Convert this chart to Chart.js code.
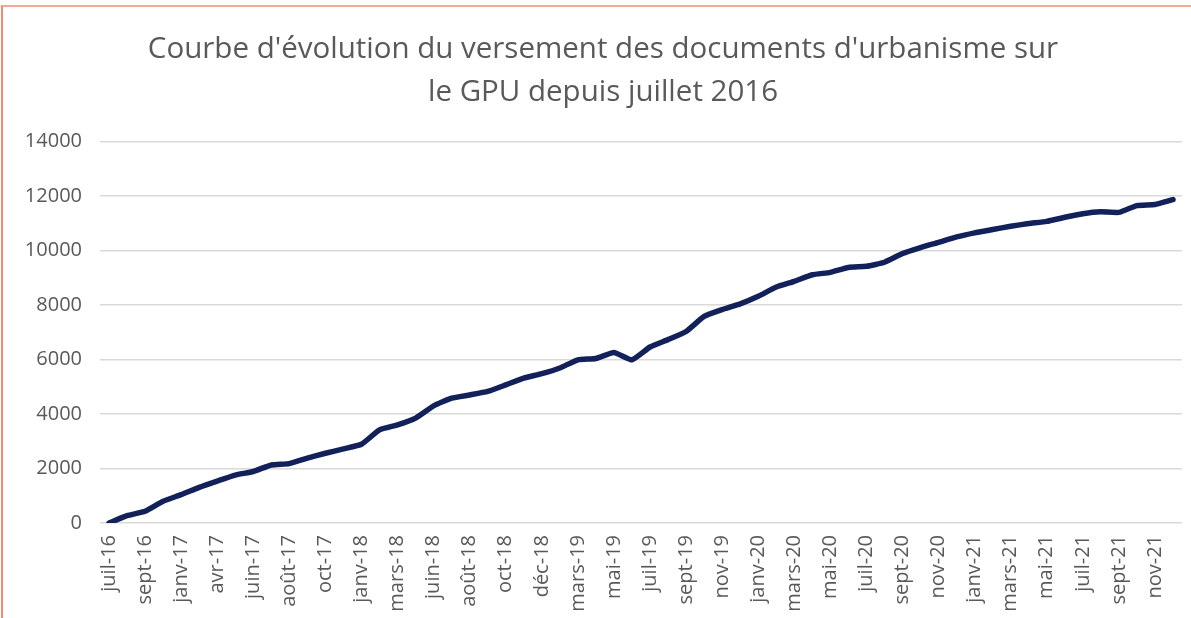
<!DOCTYPE html>
<html>
<head>
<meta charset="utf-8">
<script src="https://cdn.jsdelivr.net/npm/chart.js@4/dist/chart.umd.min.js"></script>
<style>
  html, body { margin: 0; padding: 0; background: #fff; }
  #wrap { position: relative; width: 1191px; height: 618px; overflow: hidden; }
  #frame {
    position: absolute; left: 1px; top: 5px; right: 0; bottom: 0;
    border-top: 2px solid #f4a796; border-left: 2px solid #ec8a72;
    pointer-events: none;
  }
  canvas { position: absolute; left: 0; top: 0; }
</style>
</head>
<body>
<div id="wrap">
  <canvas id="gpuChart" width="1191" height="618"></canvas>
  <div id="frame"></div>
</div>
<script>
const months = [
  'juil-16', 'août-16', 'sept-16', 'nov-16', 'janv-17', 'mars-17', 'avr-17', 'mai-17',
  'juin-17', 'juil-17', 'août-17', 'sept-17', 'oct-17', 'déc-17', 'janv-18', 'févr-18',
  'mars-18', 'mai-18', 'juin-18', 'juil-18', 'août-18', 'sept-18', 'oct-18', 'nov-18',
  'déc-18', 'févr-19', 'mars-19', 'avr-19', 'mai-19', 'juin-19', 'juil-19', 'août-19',
  'sept-19', 'oct-19', 'nov-19', 'déc-19', 'janv-20', 'févr-20', 'mars-20', 'avr-20',
  'mai-20', 'juin-20', 'juil-20', 'août-20', 'sept-20', 'oct-20', 'nov-20', 'déc-20',
  'janv-21', 'févr-21', 'mars-21', 'avr-21', 'mai-21', 'juin-21', 'juil-21', 'août-21',
  'sept-21', 'oct-21', 'nov-21', 'déc-21'
];

// nombre cumulé de documents versés sur le GPU
const documents = [
  0, 270, 430, 800, 1040, 1310, 1540, 1760,
  1890, 2130, 2180, 2380, 2560, 2720, 2890, 3420,
  3600, 3850, 4300, 4580, 4700, 4830, 5070, 5320,
  5480, 5690, 5990, 6040, 6260, 5990, 6460, 6730,
  7030, 7580, 7830, 8040, 8320, 8660, 8870, 9110,
  9200, 9380, 9420, 9570, 9890, 10110, 10300, 10500,
  10650, 10770, 10890, 10990, 11070, 11220, 11350, 11420,
  11400, 11650, 11690, 11870
];

const yTicks = [0, 2000, 4000, 6000, 8000, 10000, 12000, 14000];

const titleLines = [
  "Courbe d'évolution du versement des documents d'urbanisme sur",
  'le GPU depuis juillet 2016'
];

const textColor = '#595959';

new Chart(document.getElementById('gpuChart'), {
  type: 'line',
  data: {
    labels: months,
    datasets: [{
      label: 'Documents versés',
      data: documents,
      borderColor: '#13215a',
      borderWidth: 5.5,
      pointRadius: 0,
      tension: 0.15,
      borderJoinStyle: 'round',
      borderCapStyle: 'round',
      fill: false
    }]
  },
  options: {
    responsive: false,
    animation: false,
    devicePixelRatio: 1,
    layout: { padding: { left: 24, right: 9, top: 0, bottom: 0 } },
    plugins: {
      legend: { display: false },
      tooltip: { enabled: false },
      title: {
        display: true,
        text: titleLines,
        color: textColor,
        font: { family: 'Open Sans', size: 29.5, weight: 'normal', lineHeight: 1.45 },
        padding: { top: 28, bottom: 28 }
      }
    },
    scales: {
      x: {
        offset: true,
        grid: { display: false, drawTicks: false },
        border: { display: false },
        afterFit: (scale) => {
          scale.height = 95;
          scale.paddingLeft = 0;
          scale.paddingRight = 0;
        },
        ticks: {
          autoSkip: false,
          minRotation: 90,
          maxRotation: 90,
          padding: 12,
          color: textColor,
          font: { family: 'Open Sans', size: 20 },
          callback: (val, i) => (i % 2 === 0 ? months[i] : '')
        }
      },
      y: {
        min: yTicks[0],
        max: yTicks[yTicks.length - 1],
        afterFit: (scale) => { scale.width = 76; },
        afterBuildTicks: (scale) => { scale.ticks = yTicks.map(v => ({ value: v })); },
        grid: { color: '#d9d9d9', lineWidth: 1.5, drawTicks: false },
        border: { display: false },
        ticks: {
          padding: 18,
          color: textColor,
          font: { family: 'Open Sans', size: 20 },
          callback: (val) => String(val)
        }
      }
    }
  }
});
</script>
</body>
</html>
